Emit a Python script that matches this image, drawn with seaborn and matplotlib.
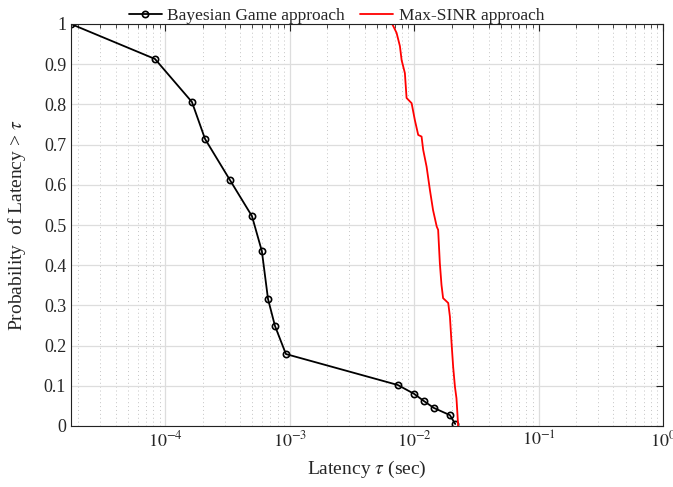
import numpy as np
import pandas as pd
import seaborn as sns
import matplotlib.pyplot as plt
from matplotlib.ticker import LogLocator, FixedLocator, NullFormatter

# values
bayes_latency = [1.75e-5, 8.28e-5, 1.64e-4, 2.09e-4, 3.31e-4, 4.98e-4, 5.98e-4,
                 6.7e-4, 7.62e-4, 9.33e-4, 7.4e-3, 1.0e-2, 1.2e-2, 1.44e-2,
                 1.94e-2, 2.14e-2]
bayes_prob = [1.0, 0.913, 0.806, 0.714, 0.612, 0.522, 0.435, 0.316, 0.249,
              0.179, 0.102, 0.080, 0.062, 0.045, 0.027, 0.005]

sinr_latency = [6.67e-3, 7.23e-3, 7.69e-3, 7.94e-3, 8.43e-3, 8.7e-3, 9.55e-3,
                1.014e-2, 1.079e-2, 1.148e-2, 1.183e-2, 1.26e-2, 1.34e-2,
                1.42e-2, 1.52e-2, 1.56e-2, 1.61e-2, 1.66e-2, 1.71e-2, 1.88e-2,
                1.94e-2, 2.0e-2, 2.06e-2, 2.13e-2, 2.19e-2, 2.26e-2]
sinr_prob = [1.0, 0.978, 0.945, 0.910, 0.878, 0.816, 0.803, 0.761, 0.724,
             0.720, 0.687, 0.645, 0.587, 0.537, 0.496, 0.488, 0.405, 0.351,
             0.318, 0.306, 0.272, 0.206, 0.147, 0.097, 0.069, 0.0]

bayes = pd.DataFrame({'latency': bayes_latency, 'prob': bayes_prob})
sinr = pd.DataFrame({'latency': sinr_latency, 'prob': sinr_prob})

sns.set_style('white')
plt.rcParams['font.family'] = ['Liberation Serif', 'DejaVu Serif']
plt.rcParams['mathtext.fontset'] = 'stix'

fig = plt.figure(figsize=(6.73, 4.87), dpi=100)
ax = fig.add_axes([71 / 673, 61 / 487, 592 / 673, 402 / 487])

sns.lineplot(data=bayes, x='latency', y='prob', ax=ax, color='black',
             marker='o', markersize=4.5, markerfacecolor='none',
             markeredgecolor='black', markeredgewidth=1.2, linewidth=1.3,
             sort=False, label='Bayesian Game approach')
sns.lineplot(data=sinr, x='latency', y='prob', ax=ax, color='red',
             linewidth=1.3, sort=False, label='Max-SINR approach')

ax.set_xscale('log')
ax.set_xlim(1.75e-5, 1)
ax.set_ylim(0, 1)
ax.xaxis.set_major_locator(FixedLocator([1e-4, 1e-3, 1e-2, 1e-1, 1]))
ax.xaxis.set_minor_locator(LogLocator(base=10, subs=np.arange(2, 10)))
ax.xaxis.set_minor_formatter(NullFormatter())
ax.set_xticklabels(['$10^{-4}$', '$10^{-3}$', '$10^{-2}$', '$10^{-1}$', '$10^{0}$'])
ax.set_yticks(np.arange(0, 1.01, 0.1))
ax.set_yticklabels(['0', '0.1', '0.2', '0.3', '0.4', '0.5', '0.6', '0.7',
                    '0.8', '0.9', '1'])

ax.grid(True, which='major', color='#dddddd', linewidth=0.9)
ax.grid(True, which='minor', axis='x', color='#c4c4c4', linestyle=(0, (1, 3)),
        linewidth=0.7)
ax.tick_params(which='both', direction='in', top=True, right=True,
               labelsize=13, color='#222222')
ax.tick_params(which='major', length=5)
ax.tick_params(which='minor', length=3)
for s in ax.spines.values():
    s.set_color('#222222')
    s.set_linewidth(0.8)

ax.set_xlabel(r'Latency $\tau$ (sec)', fontsize=14, labelpad=6)
ax.set_ylabel(r'Probability  of Latency > $\tau$', fontsize=14, labelpad=11)

ax.get_legend().remove()
handles, labels = ax.get_legend_handles_labels()
fig.legend(handles, labels, loc='lower center',
           bbox_to_anchor=(0.5, 463 / 487), ncol=2, frameon=False,
           fontsize=12.5, handlelength=1.9, columnspacing=0.9,
           handletextpad=0.3, borderaxespad=0, borderpad=0)

fig.savefig('out.png', dpi=100)
